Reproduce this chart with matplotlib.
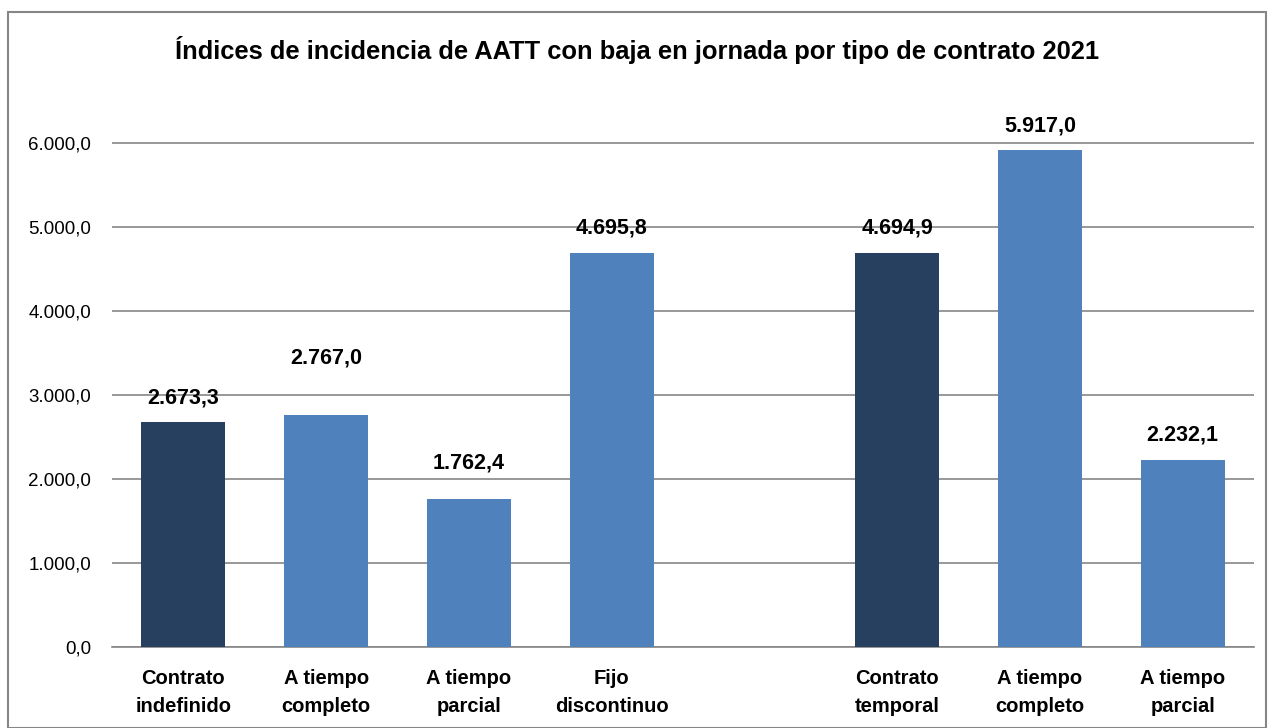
import matplotlib.pyplot as plt
from matplotlib.patches import Rectangle
from matplotlib.ticker import FuncFormatter

plt.rcParams['font.family'] = ['Liberation Sans', 'DejaVu Sans']

categories = ["Contrato\nindefinido", "A tiempo\ncompleto", "A tiempo\nparcial", "Fijo\ndiscontinuo",
              "", "Contrato\ntemporal", "A tiempo\ncompleto", "A tiempo\nparcial"]
values = [2673.3, 2767.0, 1762.4, 4695.8, None, 4694.9, 5917.0, 2232.1]
is_total = [True, False, False, False, False, True, False, False]
label_offsets = [10, 33, 18, 10, 0, 10, 10, 10]  # points above bar top

dark = "#27405f"
light = "#4f81bd"


def es_fmt(v, decimals=1):
    s = f"{v:,.{decimals}f}"
    return s.replace(",", "X").replace(".", ",").replace("X", ".")


fig = plt.figure(figsize=(12.74, 7.28), dpi=100)
ax = fig.add_axes([112 / 1274, 1 - 647 / 728, (1254 - 112) / 1274, (647 - 59) / 728])

xs = list(range(len(categories)))
for x, v, tot, off in zip(xs, values, is_total, label_offsets):
    if v is None:
        continue
    ax.bar(x, v, width=0.59, color=dark if tot else light, zorder=3)
    ax.annotate(es_fmt(v), (x, v), xytext=(0, off), textcoords="offset points",
                ha="center", va="bottom", fontsize=15.5, fontweight="bold")

ax.set_xlim(-0.5, len(categories) - 0.5)
ax.set_ylim(0, 7000)
ax.set_yticks(range(0, 7000, 1000))
ax.yaxis.set_major_formatter(FuncFormatter(lambda v, p: es_fmt(v)))
ax.grid(axis="y", color="#868686", linewidth=1.2, zorder=0)
ax.set_xticks(xs)
ax.set_xticklabels(categories, fontsize=14.5, fontweight="bold", linespacing=1.6)
ax.tick_params(axis="both", length=0)
ax.tick_params(axis="y", labelsize=13.5, pad=15)
ax.tick_params(axis="x", pad=16)
for side in ["top", "right", "left"]:
    ax.spines[side].set_visible(False)
ax.spines["bottom"].set_color("#868686")
ax.spines["bottom"].set_linewidth(1.2)

fig.text(0.5, 1 - 50 / 728, "Índices de incidencia de AATT con baja en jornada por tipo de contrato 2021",
         ha="center", va="center", fontsize=18.4, fontweight="bold")

fig.patches.append(Rectangle((8 / 1274, 0), 1 - 16 / 1274, 1 - 12 / 728, transform=fig.transFigure,
                             fill=False, edgecolor="#868686", linewidth=1.5))

fig.savefig("out.png", dpi=100)
